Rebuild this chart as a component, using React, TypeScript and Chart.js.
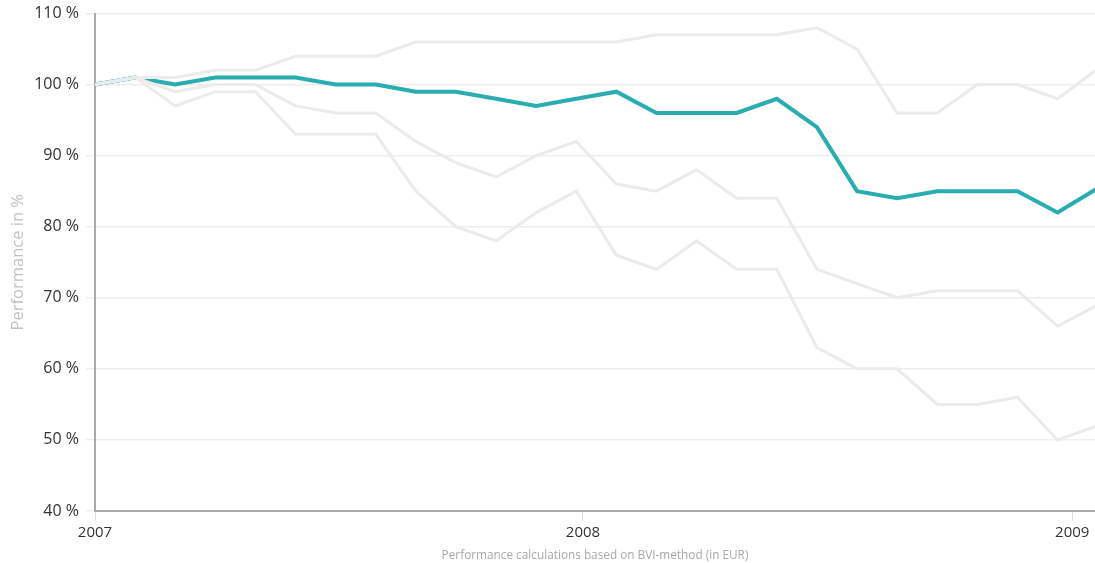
import React, { useEffect, useRef } from "react";
import { Chart, registerables } from "chart.js";

Chart.register(...registerables);

// Day offsets from 1 Jan 2007 for each monthly data point
const dayOffsets = [0, 30, 60, 90, 120, 150, 180, 210, 240, 270, 300, 330, 360, 390, 420, 450, 480, 510, 540, 570, 600, 630, 660, 690, 720, 750];

const fundSeries = [100, 101, 100, 101, 101, 101, 100, 100, 99, 99, 98, 97, 98, 99, 96, 96, 96, 98, 94, 85, 84, 85, 85, 85, 82, 85.4];
const peerHigh = [100, 101, 101, 102, 102, 104, 104, 104, 106, 106, 106, 106, 106, 106, 107, 107, 107, 107, 108, 105, 96, 96, 100, 100, 98, 102.2];
const peerMid = [100, 101, 99, 100, 100, 97, 96, 96, 92, 89, 87, 90, 92, 86, 85, 88, 84, 84, 74, 72, 70, 71, 71, 71, 66, 69];
const peerLow = [100, 101, 97, 99, 99, 93, 93, 93, 85, 80, 78, 82, 85, 76, 74, 78, 74, 74, 63, 60, 60, 55, 55, 56, 50, 52];

const xTickDays = [0, 365, 731];
const xTickLabels = ["2007", "2008", "2009"];
const xMaxDay = 748;

const yMin = 40;
const yMax = 110;
const yStep = 10;

const FONT = "'Open Sans', 'Noto Sans', sans-serif";

function toPoints(values: number[]) {
  return values.map((v, i) => ({ x: dayOffsets[i], y: v }));
}

export default function App() {
  const ref = useRef<HTMLCanvasElement | null>(null);

  useEffect(() => {
    if (!ref.current) return;
    const grayStyle = {
      borderColor: "#ebebeb",
      borderWidth: 3,
      pointRadius: 0,
      tension: 0,
      fill: false,
      order: 0,
    };
    const chart = new Chart(ref.current, {
      type: "line",
      data: {
        datasets: [
          { ...grayStyle, label: "Peer high", data: toPoints(peerHigh) },
          { ...grayStyle, label: "Peer mid", data: toPoints(peerMid) },
          { ...grayStyle, label: "Peer low", data: toPoints(peerLow) },
          {
            label: "Fund",
            data: toPoints(fundSeries),
            borderColor: "#2aadb1",
            borderWidth: 4,
            pointRadius: 0,
            tension: 0,
            fill: false,
            order: 1,
          },
        ],
      },
      options: {
        responsive: false,
        animation: false,
        layout: { padding: { top: 13.5, right: 0, bottom: 0, left: 0 } },
        plugins: {
          legend: { display: false },
          tooltip: { enabled: false },
        },
        scales: {
          x: {
            type: "linear",
            min: 0,
            max: xMaxDay,
            afterBuildTicks: (scale: any) => {
              scale.ticks = xTickDays.map((v) => ({ value: v }));
            },
            afterFit: (scale: any) => {
              scale.height = 52;
              scale.paddingLeft = 0;
              scale.paddingRight = 0;
            },
            ticks: {
              autoSkip: false,
              maxRotation: 0,
              padding: 3,
              color: "#333",
              font: { family: FONT, size: 15 },
              callback: (value: any) => {
                const idx = xTickDays.indexOf(Number(value));
                return idx >= 0 ? xTickLabels[idx] : "";
              },
            },
            grid: {
              display: true,
              drawOnChartArea: false,
              drawTicks: true,
              tickLength: 10,
              color: "#dddddd",
            },
            border: { display: true, color: "#aaaaaa", width: 2 },
            title: {
              display: true,
              text: "Performance calculations based on BVI-method (in EUR)",
              color: "#a8a8a8",
              font: { family: FONT, size: 11.8 },
              padding: { top: 0, bottom: 0 },
            },
          },
          y: {
            type: "linear",
            min: yMin,
            max: yMax,
            afterFit: (scale: any) => {
              scale.width = 95;
              scale.paddingTop = 0;
              scale.paddingBottom = 0;
            },
            ticks: {
              stepSize: yStep,
              padding: 7,
              color: "#333",
              font: { family: FONT, size: 16 },
              callback: (value: any) => `${value} %`,
            },
            grid: {
              color: "#eeeeee",
              lineWidth: 1.5,
              drawTicks: true,
              tickLength: 9,
            },
            border: { display: true, color: "#aaaaaa", width: 2 },
            title: {
              display: true,
              text: "Performance in %",
              color: "#c2c2c2",
              font: { family: FONT, size: 16.5 },
              padding: { top: 8, bottom: 0 },
            },
          },
        },
      },
    } as any);
    return () => chart.destroy();
  }, []);

  return (
    <div style={{ position: "absolute", left: 0, top: 0, width: 1095, height: 563, background: "#fff" }}>
      <canvas ref={ref} width={1095} height={563} style={{ width: 1095, height: 563, display: "block" }} />
    </div>
  );
}
